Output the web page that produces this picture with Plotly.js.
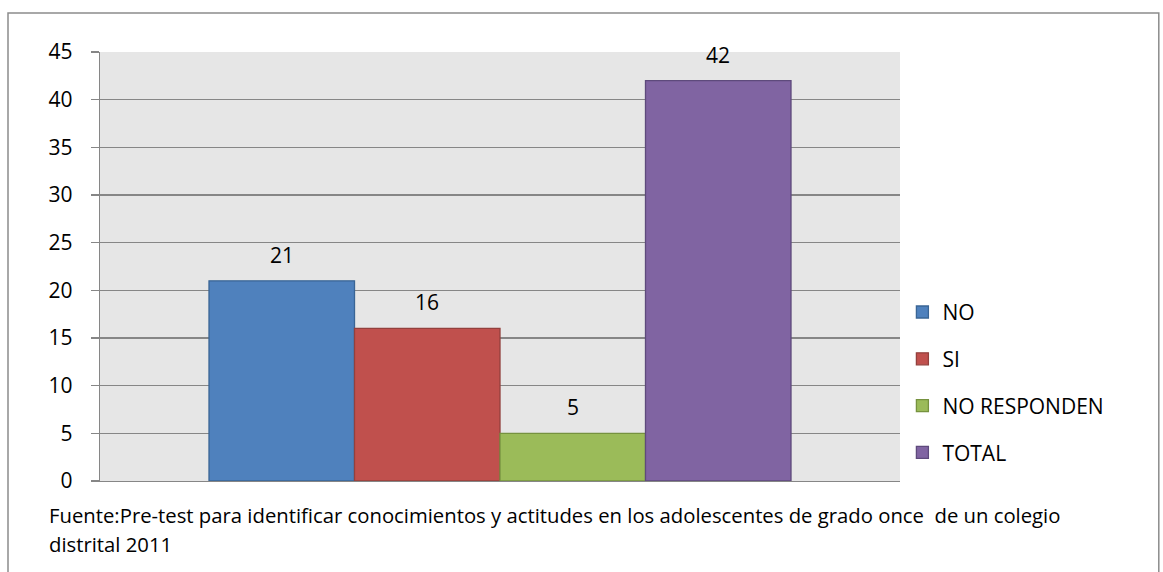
<!DOCTYPE html>
<html>
<head>
<meta charset="utf-8">
<script src="https://cdn.plot.ly/plotly-3.0.1.min.js"></script>
<style>
  html, body { margin: 0; padding: 0; background: #ffffff; }
  #chart { width: 1163px; height: 572px; }
</style>
</head>
<body>
<div id="chart"></div>
<script>
// Respuestas del pre-test (grado once)
const category = ['Respuestas'];
const seriesNames = ['NO', 'SI', 'NO RESPONDEN', 'TOTAL'];
const seriesValues = [21, 16, 5, 42];
const fillColors = ['#4F81BD', '#C0504D', '#9BBB59', '#8064A2'];
const edgeColors = ['#3A6595', '#93403D', '#76923F', '#5E4A7C'];
const yTicks = [0, 5, 10, 15, 20, 25, 30, 35, 40, 45];
const sourceLines = [
  'Fuente:Pre-test para identificar conocimientos y actitudes en los adolescentes de grado once  de un colegio',
  'distrital 2011'
];

const FONT = '"Open Sans", Lato, "Liberation Sans", sans-serif';
const LABEL_SIZE = 21;

const W = 1163, H = 572;
const margin = { l: 100, r: 263, t: 52, b: 91 };
const bargap = 0.2725;

// width of one bar in pixels, derived from the plot width and the gap
const plotW = W - margin.l - margin.r;
const barPx = plotW * (1 - bargap) / seriesNames.length;

const traces = seriesNames.map((name, i) => ({
  type: 'bar',
  name: name,
  x: category,
  y: [seriesValues[i]],
  hoverinfo: 'skip',
  legendgroup: 'g' + i,
  marker: { color: fillColors[i], line: { color: edgeColors[i], width: 1.3 } }
}));

// value labels sitting above each bar of the group
const valueLabels = seriesValues.map((v, i) => ({
  text: String(v),
  xref: 'x', yref: 'y',
  x: category[0], y: v,
  xshift: (i - (seriesNames.length - 1) / 2) * barPx,
  yshift: 26,
  yanchor: 'middle',
  showarrow: false,
  font: { family: FONT, size: LABEL_SIZE, color: '#000000' }
}));

const sourceNotes = sourceLines.map((line, i) => ({
  text: line,
  xref: 'paper', yref: 'paper',
  x: -0.066, xanchor: 'left',
  y: i === 0 ? -0.0793 : -0.1469, yanchor: 'middle',
  showarrow: false,
  font: { family: FONT, size: 20.3, color: '#000000' }
}));

const layout = {
  width: W,
  height: H,
  margin: margin,
  paper_bgcolor: '#ffffff',
  plot_bgcolor: '#E6E6E6',
  font: { family: FONT, size: LABEL_SIZE, color: '#000000' },
  barmode: 'group',
  bargap: bargap,
  bargroupgap: 0,
  showlegend: true,
  legend: {
    x: 1.003, xanchor: 'left',
    y: 0.23, yanchor: 'middle',
    traceorder: 'grouped',
    tracegroupgap: 16.5,
    font: { family: FONT, size: LABEL_SIZE, color: '#000000' },
    bgcolor: 'rgba(0,0,0,0)'
  },
  xaxis: {
    type: 'category',
    showticklabels: false,
    ticks: '',
    showgrid: false,
    showline: true,
    linecolor: '#868686',
    linewidth: 1.3,
    zeroline: false
  },
  yaxis: {
    range: [0, 45],
    tickvals: yTicks,
    ticktext: yTicks.map(String),
    ticks: 'outside',
    ticklen: 8,
    tickwidth: 1.3,
    tickcolor: '#868686',
    ticklabelstandoff: 14,
    showline: true,
    linecolor: '#868686',
    linewidth: 1.3,
    showgrid: true,
    gridcolor: '#868686',
    gridwidth: 1.3,
    zeroline: false,
    tickfont: { family: FONT, size: LABEL_SIZE, color: '#000000' }
  },
  shapes: [{
    type: 'rect', xref: 'paper', yref: 'paper',
    x0: -0.115, x1: 1.3235, y0: -0.3, y1: 1.0909,
    line: { color: '#8C8C8C', width: 1.5 },
    fillcolor: 'rgba(0,0,0,0)',
    layer: 'below'
  }],
  annotations: valueLabels.concat(sourceNotes)
};

Plotly.newPlot('chart', traces, layout, { staticPlot: true });
</script>
</body>
</html>
